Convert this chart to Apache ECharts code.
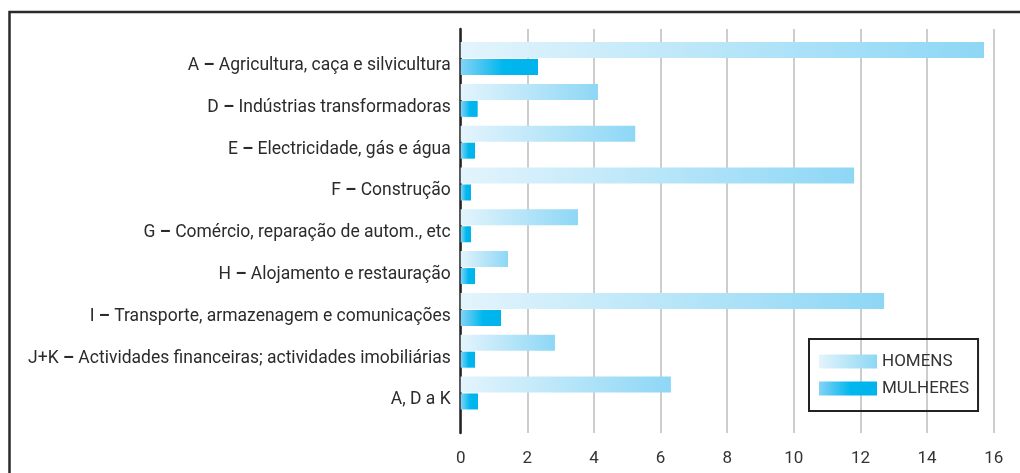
<!DOCTYPE html>
<html>
<head>
<meta charset="utf-8">
<script src="https://cdn.jsdelivr.net/npm/echarts@6/dist/echarts.min.js"></script>
<style>
html,body{margin:0;padding:0;background:#fff;}
#c{width:1020px;height:473px;}
</style>
</head>
<body>
<div id="c"></div>
<script>
const categories = [
  'A – Agricultura, caça e silvicultura',
  'D – Indústrias transformadoras',
  'E – Electricidade, gás e água',
  'F – Construção',
  'G – Comércio, reparação de autom., etc',
  'H – Alojamento e restauração',
  'I – Transporte, armazenagem e comunicações',
  'J+K – Actividades financeiras; actividades imobiliárias',
  'A, D a K'
];
const homens = [15.71, 4.12, 5.24, 11.81, 3.52, 1.42, 12.71, 2.83, 6.31];
const mulheres = [2.32, 0.51, 0.43, 0.31, 0.31, 0.43, 1.21, 0.43, 0.52];
const xTicks = [0, 2, 4, 6, 8, 10, 12, 14, 16];

const FONT = 'Roboto';
const chart = echarts.init(document.getElementById('c'), null, {renderer: 'canvas'});

const gradH = new echarts.graphic.LinearGradient(0, 0, 1, 0, [
  {offset: 0, color: '#e3f4fc'},
  {offset: 1, color: '#8dd7f5'}
]);
const gradM = new echarts.graphic.LinearGradient(0, 0, 1, 0, [
  {offset: 0, color: '#84d3f5'},
  {offset: 0.55, color: '#00b7ee'},
  {offset: 1, color: '#00b3ec'}
]);

chart.setOption({
  animation: false,
  backgroundColor: '#fff',
  textStyle: {fontFamily: FONT},
  graphic: [
    {type: 'polyline', shape: {points: [[9.5, 480], [9.5, 12], [1030, 12]]},
     style: {stroke: '#2a2a2a', lineWidth: 2.5, fill: null}, silent: true}
  ],
  legend: {
    data: ['HOMENS', 'MULHERES'],
    orient: 'vertical',
    left: 809, top: 339,
    padding: [14, 9, 14, 10],
    borderColor: '#222', borderWidth: 2,
    itemWidth: 58, itemHeight: 14, itemGap: 10,
    icon: 'rect',
    textStyle: {fontFamily: FONT, fontSize: 17, color: '#333', lineHeight: 14}
  },
  grid: [
    {left: 460.7, right: 26.3, top: 37.7, height: 376.2, containLabel: false},
    {left: 460.7, right: 26.3, top: 29, bottom: 40, containLabel: false}
  ],
  xAxis: [
    {gridIndex: 0, type: 'value', min: 0, max: 16, show: false},
    {gridIndex: 1, type: 'value', min: 0, max: 16, interval: 2,
     axisLine: {show: false}, axisTick: {show: false},
     splitLine: {show: true, lineStyle: {color: '#bdbdbd', width: 1.5}},
     axisLabel: {fontFamily: FONT, fontSize: 17, color: '#333', margin: 17,
       formatter: v => xTicks.includes(v) ? String(v) : ''}}
  ],
  yAxis: [
    {gridIndex: 0, type: 'category', data: categories, inverse: true,
     axisLine: {show: false}, axisTick: {show: false},
     axisLabel: {fontFamily: FONT, fontSize: 17.5, color: '#2b2b2b', margin: 10,
       padding: [14, 0, 0, 0],
       formatter: v => {
         const i = v.indexOf(' – ');
         if (i < 0) return v;
         return v.slice(0, i) + ' {b|–} ' + v.slice(i + 3);
       },
       rich: {b: {fontWeight: 'bold', fontSize: 17.5, color: '#2b2b2b', fontFamily: FONT}}}},
    {gridIndex: 1, type: 'value', min: 0, max: 1,
     axisLine: {show: true, lineStyle: {color: '#222', width: 2.5}},
     axisTick: {show: false}, axisLabel: {show: false}, splitLine: {show: false}}
  ],
  series: [
    {name: 'HOMENS', type: 'bar', xAxisIndex: 0, yAxisIndex: 0, data: homens,
     barWidth: 16, barGap: '6%', itemStyle: {color: gradH}, z: 3},
    {name: 'MULHERES', type: 'bar', xAxisIndex: 0, yAxisIndex: 0, data: mulheres,
     barWidth: 16, barGap: '6%', itemStyle: {color: gradM}, z: 3}
  ]
});
</script>
</body>
</html>
